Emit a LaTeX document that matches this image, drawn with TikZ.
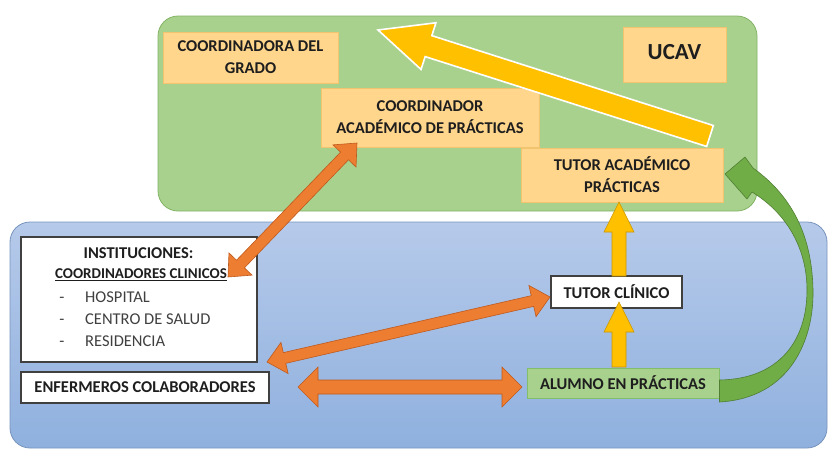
\documentclass[tikz,border=0pt]{standalone}
\usepackage{fontspec}
\setmainfont{Carlito}
\usetikzlibrary{calc}
\definecolor{bluetop}{RGB}{182,202,234}
\definecolor{bluebot}{RGB}{143,176,222}
\definecolor{blueborder}{RGB}{120,148,188}
\definecolor{greenbg}{RGB}{169,209,142}
\definecolor{greenborder}{RGB}{130,180,100}
\definecolor{peach}{RGB}{255,214,140}
\definecolor{peachborder}{RGB}{242,196,112}
\definecolor{txt}{RGB}{30,30,30}
\definecolor{graytxt}{RGB}{64,64,64}
\definecolor{orangefill}{RGB}{237,125,49}
\definecolor{orangeline}{RGB}{190,90,30}
\definecolor{yellowfill}{RGB}{255,192,0}
\definecolor{yellowline}{RGB}{200,150,0}
\definecolor{arrowgreen}{RGB}{112,173,71}
\definecolor{arrowgreenline}{RGB}{80,126,50}
\definecolor{studentfill}{RGB}{169,209,142}
\definecolor{studentborder}{RGB}{130,190,105}
\newcommand\singlearrow[6]{%
  \path ($(#2)!#5!(#1)$) coordinate (hX);
  \draw[#6] ($(#1)!#3!90:(#2)$) -- ($(hX)!#3!-90:(#1)$) -- ($(hX)!#4!-90:(#1)$) -- (#2)
    -- ($(hX)!#4!90:(#1)$) -- ($(hX)!#3!90:(#1)$) -- ($(#1)!#3!-90:(#2)$) -- cycle;
}
\newcommand\doublearrow[6]{%
  \path ($(#1)!#5!(#2)$) coordinate (hA) ($(#2)!#5!(#1)$) coordinate (hB);
  \draw[#6] (#1) -- ($(hA)!#4!90:(#2)$) -- ($(hA)!#3!90:(#2)$) -- ($(hB)!#3!-90:(#1)$)
    -- ($(hB)!#4!-90:(#1)$) -- (#2) -- ($(hB)!#4!90:(#1)$) -- ($(hB)!#3!90:(#1)$)
    -- ($(hA)!#3!-90:(#2)$) -- ($(hA)!#4!-90:(#2)$) -- cycle;
}
\tikzset{
  basefont/.style={font=\bfseries\fontsize{16.5}{22}\selectfont, text=txt},
  peachbox/.style={basefont, draw=peachborder, fill=peach, line width=1pt, inner sep=0pt, align=center},
  whitebox/.style={basefont, draw=graytxt, fill=white, line width=1.2pt, inner sep=0pt, align=center},
  studentbox/.style={basefont, draw=studentborder, fill=studentfill, line width=1pt, inner sep=0pt, align=center},
  listtext/.style={font=\fontsize{16.5}{22}\selectfont, text=graytxt, inner sep=0pt},
  orangearrow/.style={fill=orangefill, draw=orangeline, line width=0.6pt, line join=miter},
  yellowarrow/.style={fill=yellowfill, draw=yellowline, line width=0.6pt},
  bigyellow/.style={fill=yellowfill, draw=white, line width=1.6pt},
  greenarrow/.style={fill=arrowgreen, draw=arrowgreenline, line width=0.6pt}
}
\begin{document}
\begin{tikzpicture}[x=1pt,y=-1pt]
\useasboundingbox (0,0) rectangle (829,450);
\fill[white] (0,0) rectangle (829,450);
% regions
\path[draw=blueborder, line width=0.8pt, top color=bluetop, bottom color=bluebot, rounded corners=20pt] (10,222) rectangle (827,448);
\draw[fill=greenbg, draw=greenborder, line width=0.8pt, rounded corners=20pt] (158,16) rectangle (757,211);
% nodes
\node[peachbox, minimum width=175pt, minimum height=51pt] (cg) at (250.5,57.5) {COORDINADORA DEL\\GRADO};
\node[peachbox, minimum width=103pt, minimum height=55pt, font=\bfseries\fontsize{23}{26}\selectfont] (ucav) at (674.5,54.5) {\raisebox{5pt}{UCAV}};
\node[peachbox, minimum width=218pt, minimum height=59pt] (ca) at (430,117.5) {COORDINADOR\\ACADÉMICO DE PRÁCTICAS};
\node[peachbox, minimum width=202pt, minimum height=54pt] (ta) at (622,175) {TUTOR ACADÉMICO\\PRÁCTICAS};
\node[whitebox, minimum width=236pt, minimum height=125pt] (inst) at (139,299.5) {};
\node[basefont, inner sep=0pt] (instt) at (138.5,253) {INSTITUCIONES:};
\node[basefont, inner sep=0pt, font=\bfseries\fontsize{15}{20}\selectfont] (coordc) at (141,275) {\underline{COORDINADORES CLINICOS}};
\node[listtext, anchor=base] (d1) at (62,302.5) {-};
\node[listtext, anchor=base] (d2) at (62,324.5) {-};
\node[listtext, anchor=base] (d3) at (62,346.5) {-};
\node[listtext, anchor=base west] (hosp) at (85,302.5) {HOSPITAL};
\node[listtext, anchor=base west] (cs) at (85,324.5) {CENTRO DE SALUD};
\node[listtext, anchor=base west] (res) at (85,346.5) {RESIDENCIA};
\node[whitebox, minimum width=248pt, minimum height=31pt] (enf) at (145,387.5) {ENFERMEROS COLABORADORES};
\node[whitebox, minimum width=131pt, minimum height=32pt] (tc) at (616.5,292) {TUTOR CLÍNICO};
\node[studentbox, minimum width=192pt, minimum height=30pt] (al) at (623,383) {ALUMNO EN PRÁCTICAS};
% connector end points
\coordinate (bigT) at (710,136);
\coordinate (bigH) at (378,30);
\coordinate (yA1) at (619,276);
\coordinate (yA2) at (619,202);
\coordinate (yB1) at (619,367);
\coordinate (yB2) at (619,302);
\coordinate (o1a) at (228,277);
\coordinate (o1b) at (357,143);
\coordinate (o2a) at (267,362);
\coordinate (o2b) at (550,297);
\coordinate (o3a) at (298,387);
\coordinate (o3b) at (522,387);
% arrows
\singlearrow{bigT}{bigH}{11pt}{24.5pt}{53pt}{bigyellow}
\singlearrow{yA1}{yA2}{7pt}{15pt}{30pt}{yellowarrow}
\singlearrow{yB1}{yB2}{7pt}{15pt}{30pt}{yellowarrow}
\doublearrow{o1a}{o1b}{5.5pt}{16pt}{18pt}{orangearrow}
\doublearrow{o2a}{o2b}{5.5pt}{16pt}{18pt}{orangearrow}
\doublearrow{o3a}{o3b}{7pt}{20pt}{20pt}{orangearrow}
% curved green arrow from student to academic tutor
\draw[greenarrow] (al.east |- 0,402) .. controls (790,398) and (814,340) .. (813,290)
  .. controls (812,240) and (795,198) .. (753,168)
  -- (745,157) -- (725,174) -- (747,199) -- (752,192)
  .. controls (788,214) and (807,250) .. (807,290)
  .. controls (807,340) and (780,379) .. (al.east |- 0,380) -- cycle;
\end{tikzpicture}
\end{document}
